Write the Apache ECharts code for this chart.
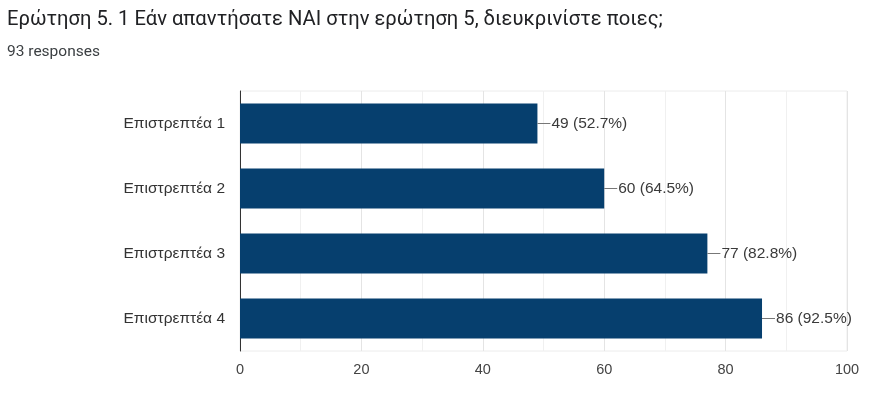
<!DOCTYPE html>
<html><head><meta charset="utf-8">
<script src="https://cdn.jsdelivr.net/npm/echarts@6/dist/echarts.min.js"></script>
<style>html,body{margin:0;padding:0;background:#fff}#c{width:881px;height:395px}</style>
</head><body><div id="c"></div>
<script>
const titleText = 'Ερώτηση 5. 1 Εάν απαντήσατε ΝΑΙ στην ερώτηση 5, διευκρινίστε ποιες;';
const subtitleText = '93 responses';
const categories = ['Επιστρεπτέα 1', 'Επιστρεπτέα 2', 'Επιστρεπτέα 3', 'Επιστρεπτέα 4'];
const counts = [49, 60, 77, 86];
const percents = ['52.7%', '64.5%', '82.8%', '92.5%'];

const chart = echarts.init(document.getElementById('c'));
chart.setOption({
  animation: false,
  title: [
    {text: titleText, left: 2, top: 5, textStyle: {fontFamily: 'Roboto', fontSize: 20.2, fontWeight: 'normal', color: '#202124'}},
    {text: subtitleText, left: 2, top: 39, textStyle: {fontFamily: 'Roboto', fontSize: 15.5, fontWeight: 'normal', color: '#3c4043'}}
  ],
  grid: {left: 240, right: 34, top: 91, bottom: 44, show: true, borderColor: '#ececec', borderWidth: 1},
  xAxis: {
    type: 'value', min: 0, max: 100, interval: 20,
    axisLine: {show: false}, axisTick: {show: false},
    axisLabel: {fontFamily: 'Arial', fontSize: 14.5, color: '#444', margin: 11},
    splitLine: {lineStyle: {color: '#e4e4e4'}},
    minorTick: {show: false, splitNumber: 2},
    minorSplitLine: {show: true, lineStyle: {color: '#f0f0f0'}}
  },
  yAxis: {
    type: 'category', data: categories, inverse: true,
    axisLine: {lineStyle: {color: '#333', width: 1}}, axisTick: {show: false},
    axisLabel: {fontFamily: 'Arial', fontSize: 15.5, color: '#333', margin: 15}
  },
  series: [{
    type: 'bar', data: counts, barWidth: 40,
    itemStyle: {color: '#063f6e'},
    label: {
      show: true, position: 'right', distance: 0,
      formatter: p => '{l|}{t|' + counts[p.dataIndex] + ' (' + percents[p.dataIndex] + ')}',
      rich: {
        l: {width: 13, height: 1, backgroundColor: '#777'},
        t: {fontFamily: 'Arial', fontSize: 15.5, color: '#3a3a3a', padding: [0, 0, 0, 1]}
      }
    }
  }]
});
</script></body></html>
